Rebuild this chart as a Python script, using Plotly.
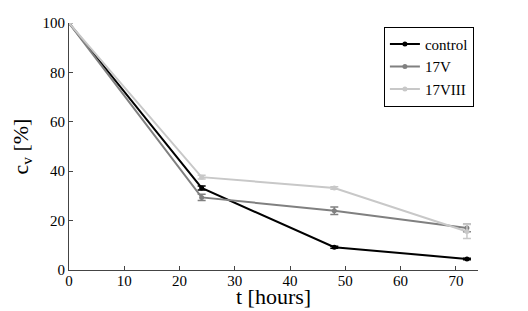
import plotly.graph_objects as go

t_hours = [0, 24, 48, 72]
control = [100, 33.2, 9.2, 4.5]
control_err = [0, 0.8, 0.4, 0.3]
v17 = [100, 29.4, 24.0, 17.0]
v17_err = [0, 1.3, 1.5, 1.5]
v17viii = [100, 37.6, 33.2, 15.6]
v17viii_err = [0, 0.8, 0.5, 2.8]

names = ["control", "17V", "17VIII"]
colors = ["#000000", "#808080", "#c8c8c8"]

fig = go.Figure()
for name, y, err, c in zip(names, [control, v17, v17viii],
                           [control_err, v17_err, v17viii_err], colors):
    fig.add_trace(go.Scatter(
        x=t_hours, y=y, name=name, mode="lines+markers",
        line=dict(color=c, width=2),
        marker=dict(color=c, size=5),
        error_y=dict(type="data", array=err, color=c, thickness=1.5, width=4),
    ))

font = "Liberation Serif"
fig.update_layout(
    template="none",
    width=528, height=311,
    margin=dict(l=69, r=50, t=23, b=41, pad=0),
    paper_bgcolor="white", plot_bgcolor="white",
    font=dict(family=font, size=15, color="black"),
    showlegend=True,
    legend=dict(
        x=0.99, y=0.985, xanchor="right", yanchor="top",
        bgcolor="white", bordercolor="black", borderwidth=1,
        font=dict(family=font, size=15, color="black"),
        tracegroupgap=0, itemwidth=30,
    ),
    xaxis=dict(
        range=[0, 74], tickvals=[0, 10, 20, 30, 40, 50, 60, 70],
        ticks="inside", ticklen=4, tickcolor="#444", showgrid=False,
        zeroline=False, showline=True, linecolor="#444", linewidth=1,
        tickfont=dict(family=font, size=15), automargin=False,
        ticklabelstandoff=-3,
    ),
    yaxis=dict(
        range=[0, 100], tickvals=[0, 20, 40, 60, 80, 100],
        ticks="inside", ticklen=4, tickcolor="#444", showgrid=False,
        zeroline=False, showline=True, linecolor="#444", linewidth=1,
        tickfont=dict(family=font, size=15), automargin=False,
    ),
    annotations=[
        dict(text="t [hours]", xref="paper", yref="paper", x=0.5, y=0,
             xanchor="center", yanchor="bottom", yshift=-41, showarrow=False,
             font=dict(family=font, size=22, color="black")),
        dict(text="c<sub>v</sub> [%]", xref="paper", yref="paper", x=0, y=0.5,
             xanchor="center", yanchor="middle", xshift=-48, textangle=-90,
             showarrow=False, font=dict(family=font, size=22, color="black")),
    ],
)

fig.write_html("out.html", config={"displayModeBar": False},
               post_script="document.body.style.margin='0';")
